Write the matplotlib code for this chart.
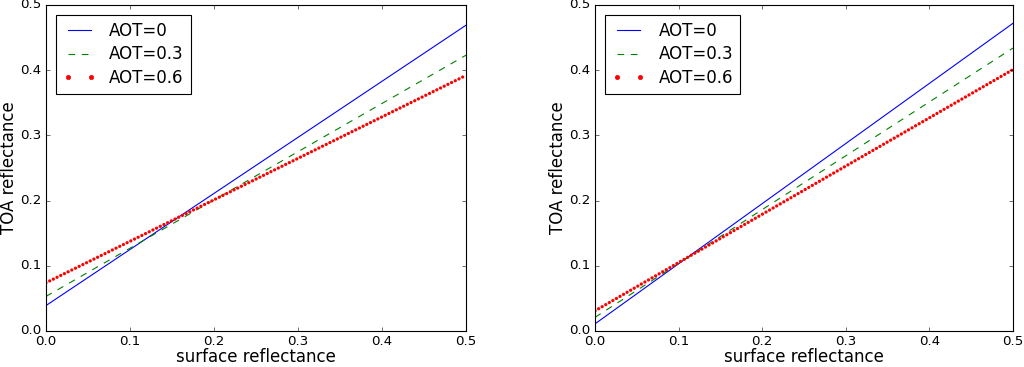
import matplotlib
matplotlib.use('Agg')
import matplotlib.pyplot as plt
from matplotlib.lines import Line2D

plt.style.use('classic')

# surface reflectance range (endpoints) and TOA reflectance
surf = [0.0, 0.5]
labels = ['AOT=0', 'AOT=0.3', 'AOT=0.6']

left_toa = {
    'AOT=0': [0.039, 0.469],
    'AOT=0.3': [0.053, 0.423],
    'AOT=0.6': [0.074, 0.392],
}
right_toa = {
    'AOT=0': [0.011, 0.472],
    'AOT=0.3': [0.021, 0.434],
    'AOT=0.6': [0.031, 0.401],
}

fig = plt.figure(figsize=(12.8, 4.5875), dpi=80, facecolor='white')
ax1 = fig.add_axes([0.0449, 0.0981, 0.4102, 0.8883])
ax2 = fig.add_axes([0.5811, 0.0981, 0.4082, 0.8883])


def draw(ax, toa):
    ax.plot(surf, toa['AOT=0'], 'b-', lw=1)
    ax.plot(surf, toa['AOT=0.3'], 'g--', lw=1)
    ax.plot(surf, toa['AOT=0.6'], color='r', lw=3,
            linestyle=(0, (0.001, 3.7)), dash_capstyle='round')
    handles = [
        Line2D([], [], color='b', ls='-'),
        Line2D([], [], color='g', ls='--'),
        Line2D([], [], color='r', ls='None', marker='.', markersize=8),
    ]
    ax.legend(handles, labels, loc='upper left', numpoints=2,
              fontsize=15, borderaxespad=0.6, labelspacing=0.35)
    ax.set_xlim(0, 0.5)
    ax.set_ylim(0, 0.5)
    ax.set_xlabel('surface reflectance', fontsize=15, labelpad=0)
    ax.set_ylabel('TOA reflectance', fontsize=15, labelpad=2)


draw(ax1, left_toa)
draw(ax2, right_toa)

fig.savefig('out.png', dpi=80, facecolor='white')
